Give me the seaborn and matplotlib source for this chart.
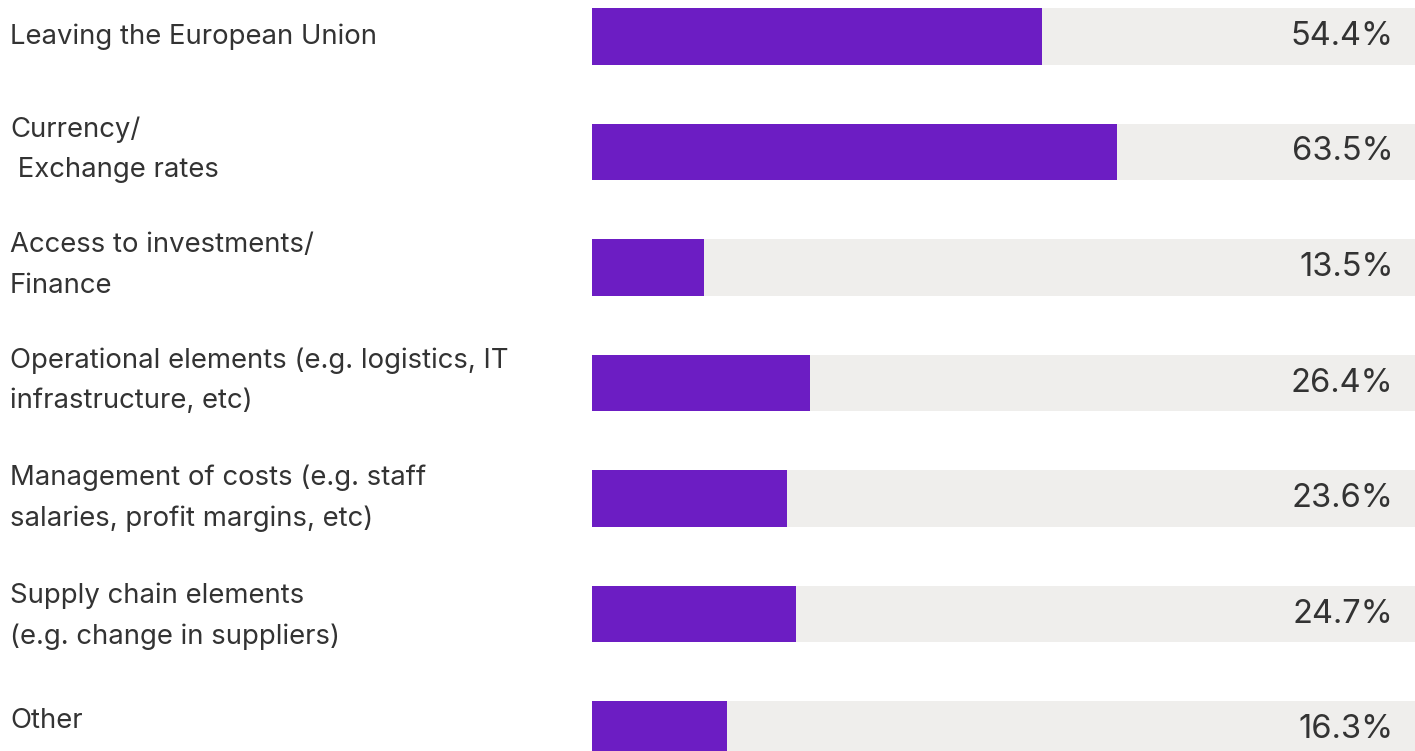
import matplotlib
matplotlib.use("Agg")
import matplotlib.pyplot as plt
import seaborn as sns
import pandas as pd

categories = [
    "Leaving the European Union",
    "Currency/\n Exchange rates",
    "Access to investments/\nFinance",
    "Operational elements (e.g. logistics, IT\ninfrastructure, etc)",
    "Management of costs (e.g. staff\nsalaries, profit margins, etc)",
    "Supply chain elements\n(e.g. change in suppliers)",
    "Other",
]
values = [54.4, 63.5, 13.5, 26.4, 23.6, 24.7, 16.3]
value_labels = ["54.4%", "63.5%", "13.5%", "26.4%", "23.6%", "24.7%", "16.3%"]
totals = [100] * len(values)

PURPLE = "#6c1dc3"
GREY = "#efeeec"
TEXT = "#333333"

sns.set_theme(style="white")
plt.rcParams["font.family"] = ["Inter", "DejaVu Sans"]

df = pd.DataFrame({"cat": categories, "val": values, "tot": totals})

W, H = 1415, 751
fig = plt.figure(figsize=(W / 100, H / 100), dpi=100)
ax = fig.add_axes([592 / W, 0, 1 - 592 / W, 1])

sns.barplot(data=df, y="cat", x="tot", orient="h", color=GREY, width=0.49,
            saturation=1, linewidth=0, ax=ax)
sns.barplot(data=df, y="cat", x="val", orient="h", color=PURPLE, width=0.49,
            saturation=1, linewidth=0, ax=ax)

ax.set_xlim(0, 99.5)
row_h = 115.5
top = -36.5 / row_h
bottom = (H - 36.5) / row_h
ax.set_ylim(bottom, top)

for s in ax.spines.values():
    s.set_visible(False)
ax.set_xticks([])
ax.set_yticks([])
ax.set_xlabel("")
ax.set_ylabel("")

label_shift = [0, -2, -2, -2, 0, 2, -9]
for i, (cat, lab) in enumerate(zip(categories, value_labels)):
    ax.text(96.9, i, lab, ha="right", va="center", fontsize=23.5, color=TEXT)
    fig.text(10 / W, 1 - (36.5 + i * row_h + label_shift[i]) / H, cat,
             ha="left", va="center", fontsize=19.8, color=TEXT, linespacing=1.72)

fig.savefig("out.png", dpi=100)
